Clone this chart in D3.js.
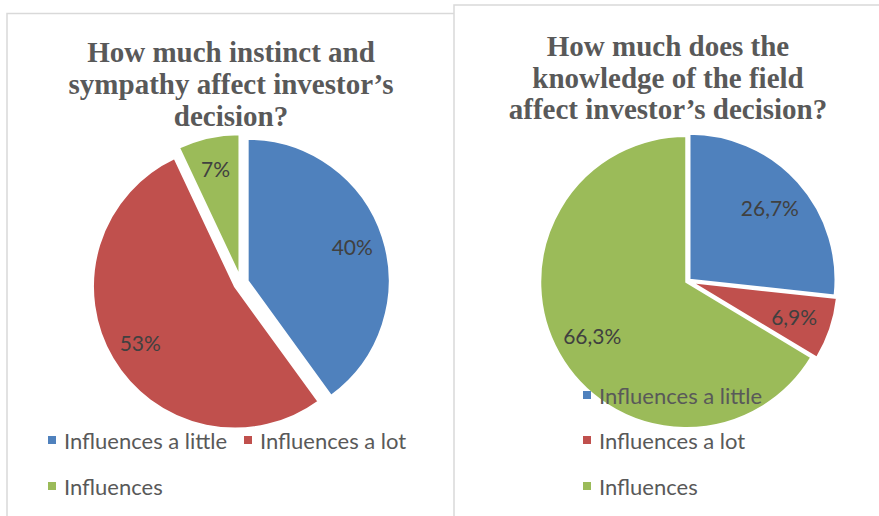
<!DOCTYPE html>
<html>
<head>
<meta charset="utf-8">
<script src="https://cdn.jsdelivr.net/npm/d3@7"></script>
<style>
  html, body { margin: 0; padding: 0; background: #ffffff; }
  svg { display: block; }
</style>
</head>
<body>
<svg id="chart" width="879" height="516"></svg>
<script>
// ---- data ----
const categories = ["Influences a little", "Influences a lot", "Influences"];
const leftValues = [40, 53, 7];
const leftLabels = ["40%", "53%", "7%"];
const rightValues = [26.7, 6.9, 66.3];
const rightLabels = ["26,7%", "6,9%", "66,3%"];
const leftTitle = ["How much instinct and", "sympathy affect investor\u2019s", "decision?"];
const rightTitle = ["How much does the", "knowledge of the field", "affect investor\u2019s decision?"];

// ---- style ----
const colors = ["#4F81BD", "#C0504D", "#9BBB59"];
const svg = d3.select("#chart");
const color = d3.scaleOrdinal().domain(categories).range(colors);

// panel borders
svg.append("path")
  .attr("d", "M7,530 L7,13.5 L454,13.5")
  .attr("fill", "none").attr("stroke", "#d9d9d9").attr("stroke-width", 1.5);
svg.append("path")
  .attr("d", "M454,530 L454,5 L890,5")
  .attr("fill", "none").attr("stroke", "#d9d9d9").attr("stroke-width", 1.5);

function drawTitle(lines, cx, y0, lh) {
  const t = svg.append("text")
    .attr("text-anchor", "middle")
    .attr("font-family", "'Liberation Serif', 'Times New Roman', serif")
    .attr("font-weight", "bold")
    .attr("font-size", 29)
    .attr("fill", "#595959");
  lines.forEach((s, i) => {
    t.append("tspan").attr("x", cx).attr("y", y0 + i * lh).text(s);
  });
}

function drawPie(values, labels, cx, cy, r, explode, labelR) {
  const pie = d3.pie().sort(null).value(d => d);
  const arcs = pie(values);
  const arc = d3.arc().innerRadius(0).outerRadius(r);
  const lab = d3.arc().innerRadius(labelR).outerRadius(labelR);
  const g = svg.append("g").attr("transform", `translate(${cx},${cy})`);
  arcs.forEach((a, i) => {
    const mid = (a.startAngle + a.endAngle) / 2;
    const ex = explode[i];
    const dx = Math.sin(mid) * ex, dy = -Math.cos(mid) * ex;
    const sg = g.append("g").attr("transform", `translate(${dx},${dy})`);
    sg.append("path")
      .attr("d", arc(a))
      .attr("fill", color(categories[i]))
      .attr("stroke", "#ffffff")
      .attr("stroke-width", 2);
    const c = lab.centroid(a);
    sg.append("text")
      .attr("x", c[0]).attr("y", c[1])
      .attr("text-anchor", "middle")
      .attr("dominant-baseline", "central")
      .attr("font-family", "Lato, 'Open Sans', sans-serif")
      .attr("font-size", 21)
      .attr("fill", "#404040")
      .text(labels[i]);
  });
}

function drawLegend(items) {
  items.forEach(it => {
    svg.append("rect")
      .attr("x", it.x).attr("y", it.y - 4)
      .attr("width", 8).attr("height", 8)
      .attr("fill", color(categories[it.i]));
    svg.append("text")
      .attr("x", it.x + 16).attr("y", it.y)
      .attr("dominant-baseline", "central")
      .attr("font-family", "Lato, 'Open Sans', sans-serif")
      .attr("font-size", 22)
      .attr("fill", "#595959")
      .text(categories[it.i]);
  });
}

// left chart
drawTitle(leftTitle, 231, 62, 32);
drawPie(leftValues, leftLabels, 241, 283, 142, [7, 7, 7], 110);
drawLegend([
  { i: 0, x: 48, y: 440 },
  { i: 1, x: 244, y: 440 },
  { i: 2, x: 48, y: 486 }
]);

// right chart
drawTitle(rightTitle, 668, 56, 31.5);
drawPie(rightValues, rightLabels, 688, 281, 146, [2, 4, 2], 108);
drawLegend([
  { i: 0, x: 583, y: 395 },
  { i: 1, x: 583, y: 440 },
  { i: 2, x: 583, y: 486 }
]);
</script>
</body>
</html>
